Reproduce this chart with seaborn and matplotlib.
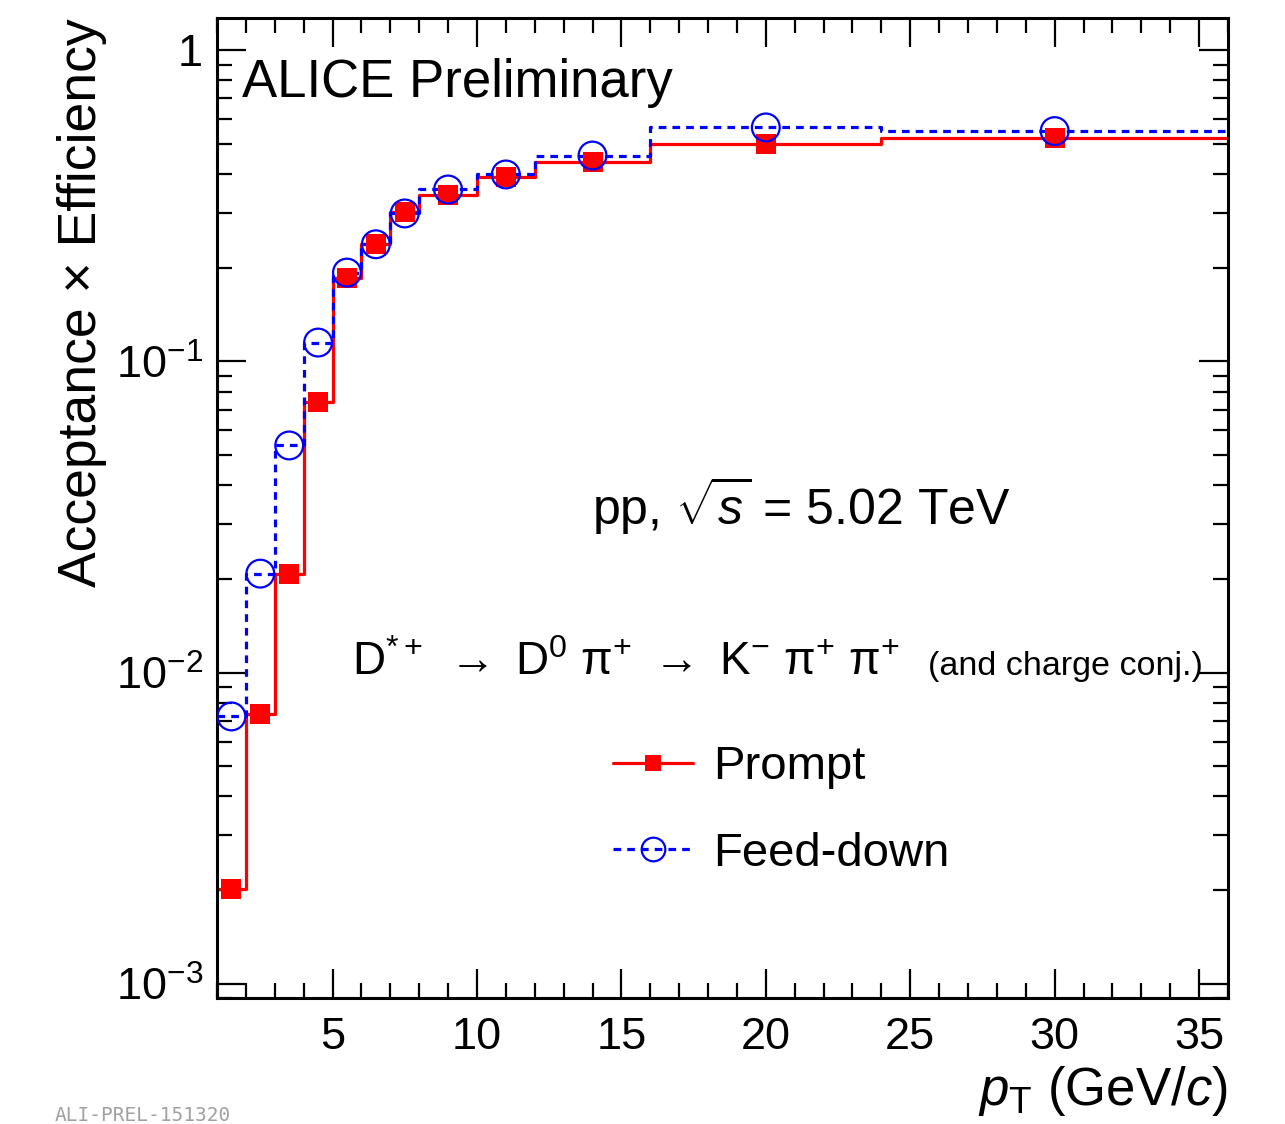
import numpy as np
import pandas as pd
import seaborn as sns
import matplotlib.pyplot as plt
from matplotlib.lines import Line2D
from matplotlib.ticker import LogLocator, MultipleLocator, FixedLocator, FixedFormatter, NullFormatter

sns.set_style("ticks")
plt.rcParams['font.family'] = ['Liberation Sans', 'DejaVu Sans']
plt.rcParams['mathtext.fontset'] = 'custom'
plt.rcParams['mathtext.rm'] = 'Liberation Sans'
plt.rcParams['mathtext.it'] = 'Liberation Sans:italic'
plt.rcParams['mathtext.sf'] = 'Liberation Sans'
plt.rcParams['mathtext.default'] = 'regular'
for key in ['text.color', 'axes.labelcolor', 'xtick.color', 'ytick.color', 'axes.edgecolor']:
    plt.rcParams[key] = 'black'

# pT bins (GeV/c) and acc x eff values
pt_edges = [1, 2, 3, 4, 5, 6, 7, 8, 10, 12, 16, 24, 36]
prompt = [0.00202, 0.00738, 0.0208, 0.0743, 0.185, 0.238, 0.303, 0.342, 0.391, 0.436, 0.499, 0.521]
feeddown = [0.00723, 0.0208, 0.0537, 0.115, 0.193, 0.238, 0.299, 0.357, 0.399, 0.459, 0.565, 0.550]

y_ticks = [1e-3, 1e-2, 1e-1, 1]
y_ticklabels = ["10$^{-3}$", "10$^{-2}$", "10$^{-1}$", "1"]

centers = [(a + b) / 2 for a, b in zip(pt_edges[:-1], pt_edges[1:])]
steps = pd.DataFrame({"pt": pt_edges,
                      "prompt": prompt + [prompt[-1]],
                      "feeddown": feeddown + [feeddown[-1]]})
points = pd.DataFrame({"pt": centers, "prompt": prompt, "feeddown": feeddown})

fig = plt.figure(figsize=(12.85, 11.24), dpi=100)
ax = fig.add_axes([217 / 1285, 1 - 998 / 1124, (1228 - 217) / 1285, (998 - 18) / 1124])

dotted = (0, (2.4, 1.9))
sns.lineplot(data=steps, x="pt", y="prompt", drawstyle="steps-post", color="red", lw=2.3, ax=ax)
sns.lineplot(data=steps, x="pt", y="feeddown", drawstyle="steps-post", color="blue", lw=2.3,
             linestyle=dotted, ax=ax)
sns.scatterplot(data=points, x="pt", y="prompt", marker="s", s=190, color="red", edgecolor="red",
                linewidth=0, ax=ax, zorder=3)
sns.scatterplot(data=points, x="pt", y="feeddown", marker="o", s=400, facecolor="none",
                edgecolor="blue", linewidth=1.6, ax=ax, zorder=4)

ax.set_yscale("log")
ax.set_xlim(1, 36)
ax.set_ylim(0.0009, 1.27)

ax.xaxis.set_major_locator(MultipleLocator(5))
ax.xaxis.set_minor_locator(MultipleLocator(1))
ax.yaxis.set_major_locator(FixedLocator(y_ticks))
ax.yaxis.set_major_formatter(FixedFormatter(y_ticklabels))
ax.yaxis.set_minor_locator(LogLocator(base=10, subs=np.arange(2, 10)))
ax.yaxis.set_minor_formatter(NullFormatter())

ax.tick_params(which="both", direction="in", top=True, right=True, width=1.6, labelsize=32.5)
ax.tick_params(which="major", length=21)
ax.tick_params(which="minor", length=10.5)
ax.tick_params(axis="x", pad=14)
ax.tick_params(axis="y", pad=10)
for s in ax.spines.values():
    s.set_linewidth(2.2)

ax.set_xlabel("$\\mathit{p}_{\\mathrm{T}}$ (GeV/$\\mathit{c}$)", fontsize=38, loc="right", labelpad=4)
ax.set_ylabel("Acceptance \u00d7 Efficiency", fontsize=38.5, loc="top", labelpad=6)

ax.text(0.025, 0.934, "ALICE Preliminary", transform=ax.transAxes, fontsize=38, va="center", ha="left")
ax.text(0.371, 0.503, "pp, $\\sqrt{\\mathit{s}}$ = 5.02 TeV", transform=ax.transAxes,
        fontsize=36, va="center", ha="left")
ax.text(0.134, 0.330, "D$^{*+}$ $\\rightarrow$ D$^{0}$ $\\pi^{+}$ $\\rightarrow$ K$^{-}$ $\\pi^{+}$ $\\pi^{+}$",
        transform=ax.transAxes, fontsize=33, va="baseline", ha="left")
ax.text(0.703, 0.330, "(and charge conj.)", transform=ax.transAxes, fontsize=24.5,
        va="baseline", ha="left")

handles = [Line2D([], [], color="red", lw=2.3, marker="s", markersize=11, markeredgewidth=0),
           Line2D([], [], color="blue", lw=2.3, linestyle=dotted, marker="o",
                  markersize=17, markerfacecolor="none", markeredgewidth=1.6)]
ax.legend(handles, ["Prompt", "Feed-down"], fontsize=34, frameon=False, handlelength=1.7,
          handletextpad=0.43, labelspacing=0.9, loc="upper left",
          bbox_to_anchor=(0.373, 0.277), borderaxespad=0)

fig.text(55 / 1285, 0.003, "ALI-PREL-151320", fontsize=14, color="#a0a0a0",
         family="DejaVu Sans Mono", va="baseline", ha="left")

fig.savefig("out.png", dpi=100)
